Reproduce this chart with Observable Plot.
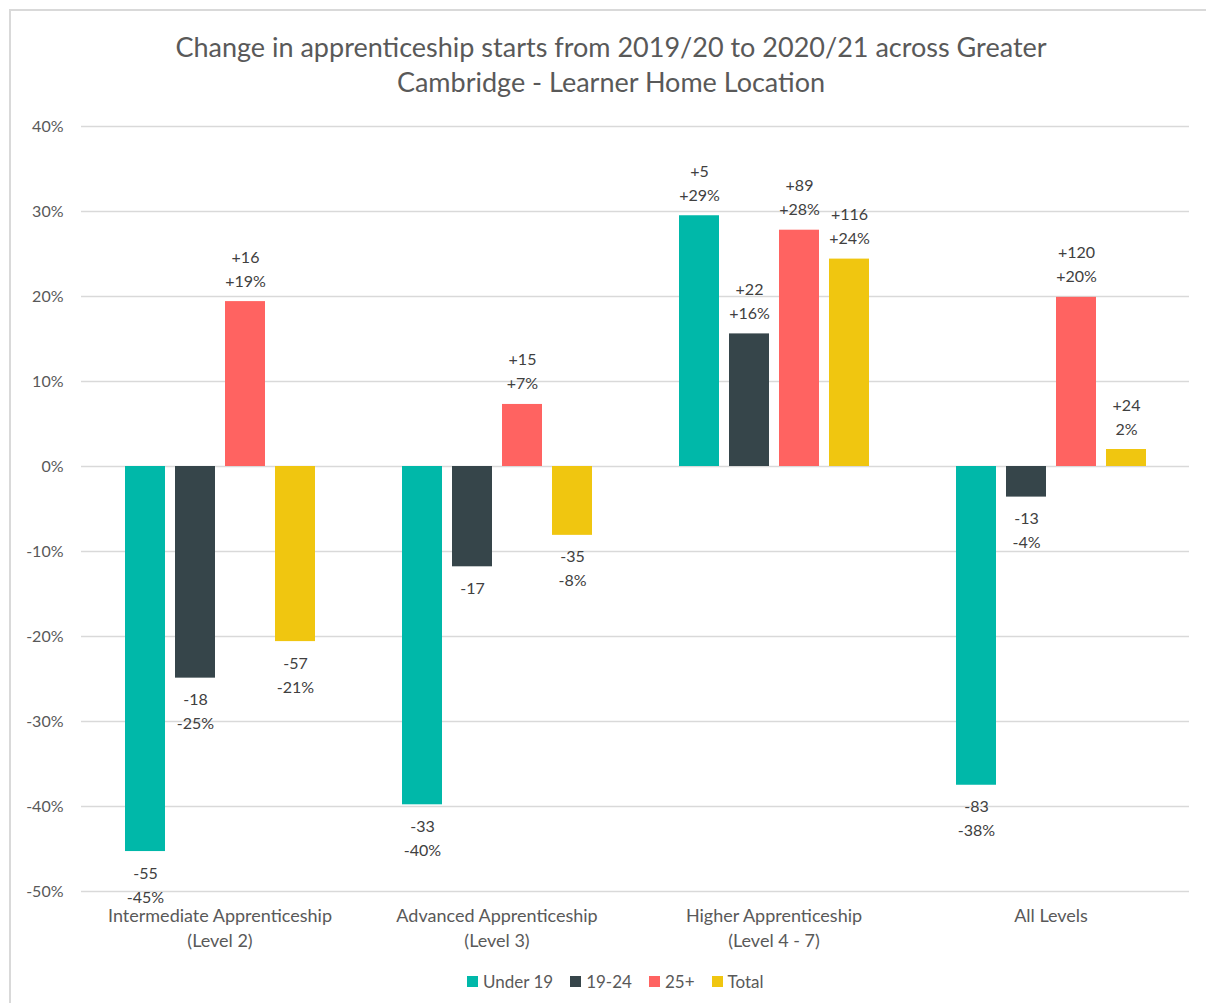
<!DOCTYPE html>
<html><head><meta charset="utf-8">
<script src="https://cdn.jsdelivr.net/npm/d3@7"></script>
<script src="https://cdn.jsdelivr.net/npm/@observablehq/plot@0.6"></script>
<style>
body{margin:0;background:#fff;font-family:Lato,"Open Sans",sans-serif;width:1206px;height:1003px;overflow:hidden;position:relative;}
#frame{position:absolute;left:9px;top:9px;width:1400px;height:1200px;border:2px solid #d9d9d9;}
#title{position:absolute;left:0;width:1222px;top:29px;text-align:center;font-size:27px;line-height:35px;color:#595959;z-index:2;}
#chart{position:absolute;left:0;top:0;z-index:1;}
#legend{position:absolute;top:971px;left:467px;display:flex;align-items:center;font-size:17px;color:#595959;z-index:2;}
#legend .sw{width:11px;height:11px;margin-right:5px;}
#legend .it{display:flex;align-items:center;margin-right:17px;}
</style></head>
<body>
<div id="frame"></div>
<div id="title">Change in apprenticeship starts from 2019/20 to 2020/21 across Greater<br>Cambridge - Learner Home Location</div>
<div id="chart"></div>
<div id="legend"></div>
<script>
const categories = ["Intermediate Apprenticeship\n(Level 2)", "Advanced Apprenticeship\n(Level 3)", "Higher Apprenticeship\n(Level 4 - 7)", "All Levels"];
const series = ["Under 19", "19-24", "25+", "Total"];
const colors = ["#00B8A9", "#36454A", "#FF6361", "#F0C610"];
const yTicks = [-50, -40, -30, -20, -10, 0, 10, 20, 30, 40];

const under19Pct = [-45.3, -39.8, 29.5, -37.5];
const age1924Pct = [-24.9, -11.8, 15.6, -3.6];
const age25Pct = [19.4, 7.3, 27.8, 19.9];
const totalPct = [-20.6, -8.1, 24.4, 2.0];

const under19Labels = ["-55\n-45%", "-33\n-40%", "+5\n+29%", "-83\n-38%"];
const age1924Labels = ["-18\n-25%", "-17", "+22\n+16%", "-13\n-4%"];
const age25Labels = ["+16\n+19%", "+15\n+7%", "+89\n+28%", "+120\n+20%"];
const totalLabels = ["-57\n-21%", "-35\n-8%", "+116\n+24%", "+24\n2%"];

const valueSets = [under19Pct, age1924Pct, age25Pct, totalPct];
const labelSets = [under19Labels, age1924Labels, age25Labels, totalLabels];

const rows = [];
categories.forEach((c, i) => {
  series.forEach((s, j) => {
    rows.push({category: c, series: s, value: valueSets[j][i], label: labelSets[j][i]});
  });
});

const chart = Plot.plot({
  width: 1206,
  height: 960,
  marginLeft: 80,
  marginRight: 17,
  marginTop: 126,
  marginBottom: 69,
  style: {background: "transparent", fontFamily: "Lato, 'Open Sans', sans-serif", fontSize: "16px", color: "#595959"},
  fx: {domain: categories, padding: 0, label: null, axis: null},
  x: {domain: series, paddingInner: 0.2, paddingOuter: 0.845, axis: null},
  y: {domain: [-50, 40], axis: null},
  color: {domain: series, range: colors},
  marks: [
    Plot.ruleY(yTicks, {stroke: "#d9d9d9", strokeWidth: 1.5}),
    Plot.barY(rows, {fx: "category", x: "series", y: "value", fill: "series"}),
    Plot.text(rows.filter(d => d.value >= 0), {fx: "category", x: "series", y: "value", text: "label", lineAnchor: "bottom", dy: -15, lineHeight: 1.5, fill: "#404040", fontSize: 16}),
    Plot.text(rows.filter(d => d.value < 0), {fx: "category", x: "series", y: "value", text: "label", lineAnchor: "top", dy: 10, lineHeight: 1.5, fill: "#404040", fontSize: 16}),
    Plot.axisY({ticks: yTicks, tickSize: 0, tickPadding: 18, tickFormat: d => d + "%", fill: "#595959", fontSize: 16, label: null}),
    Plot.axisFx({anchor: "bottom", tickSize: 0, tickPadding: 13, label: null, lineHeight: 1.39, fill: "#595959", fontSize: 18})
  ]
});
document.getElementById("chart").appendChild(chart);

const legend = document.getElementById("legend");
series.forEach((s, j) => {
  const it = document.createElement("div");
  it.className = "it";
  const sw = document.createElement("div");
  sw.className = "sw";
  sw.style.background = colors[j];
  const t = document.createElement("span");
  t.textContent = s;
  it.appendChild(sw); it.appendChild(t);
  legend.appendChild(it);
});
</script>
</body></html>
